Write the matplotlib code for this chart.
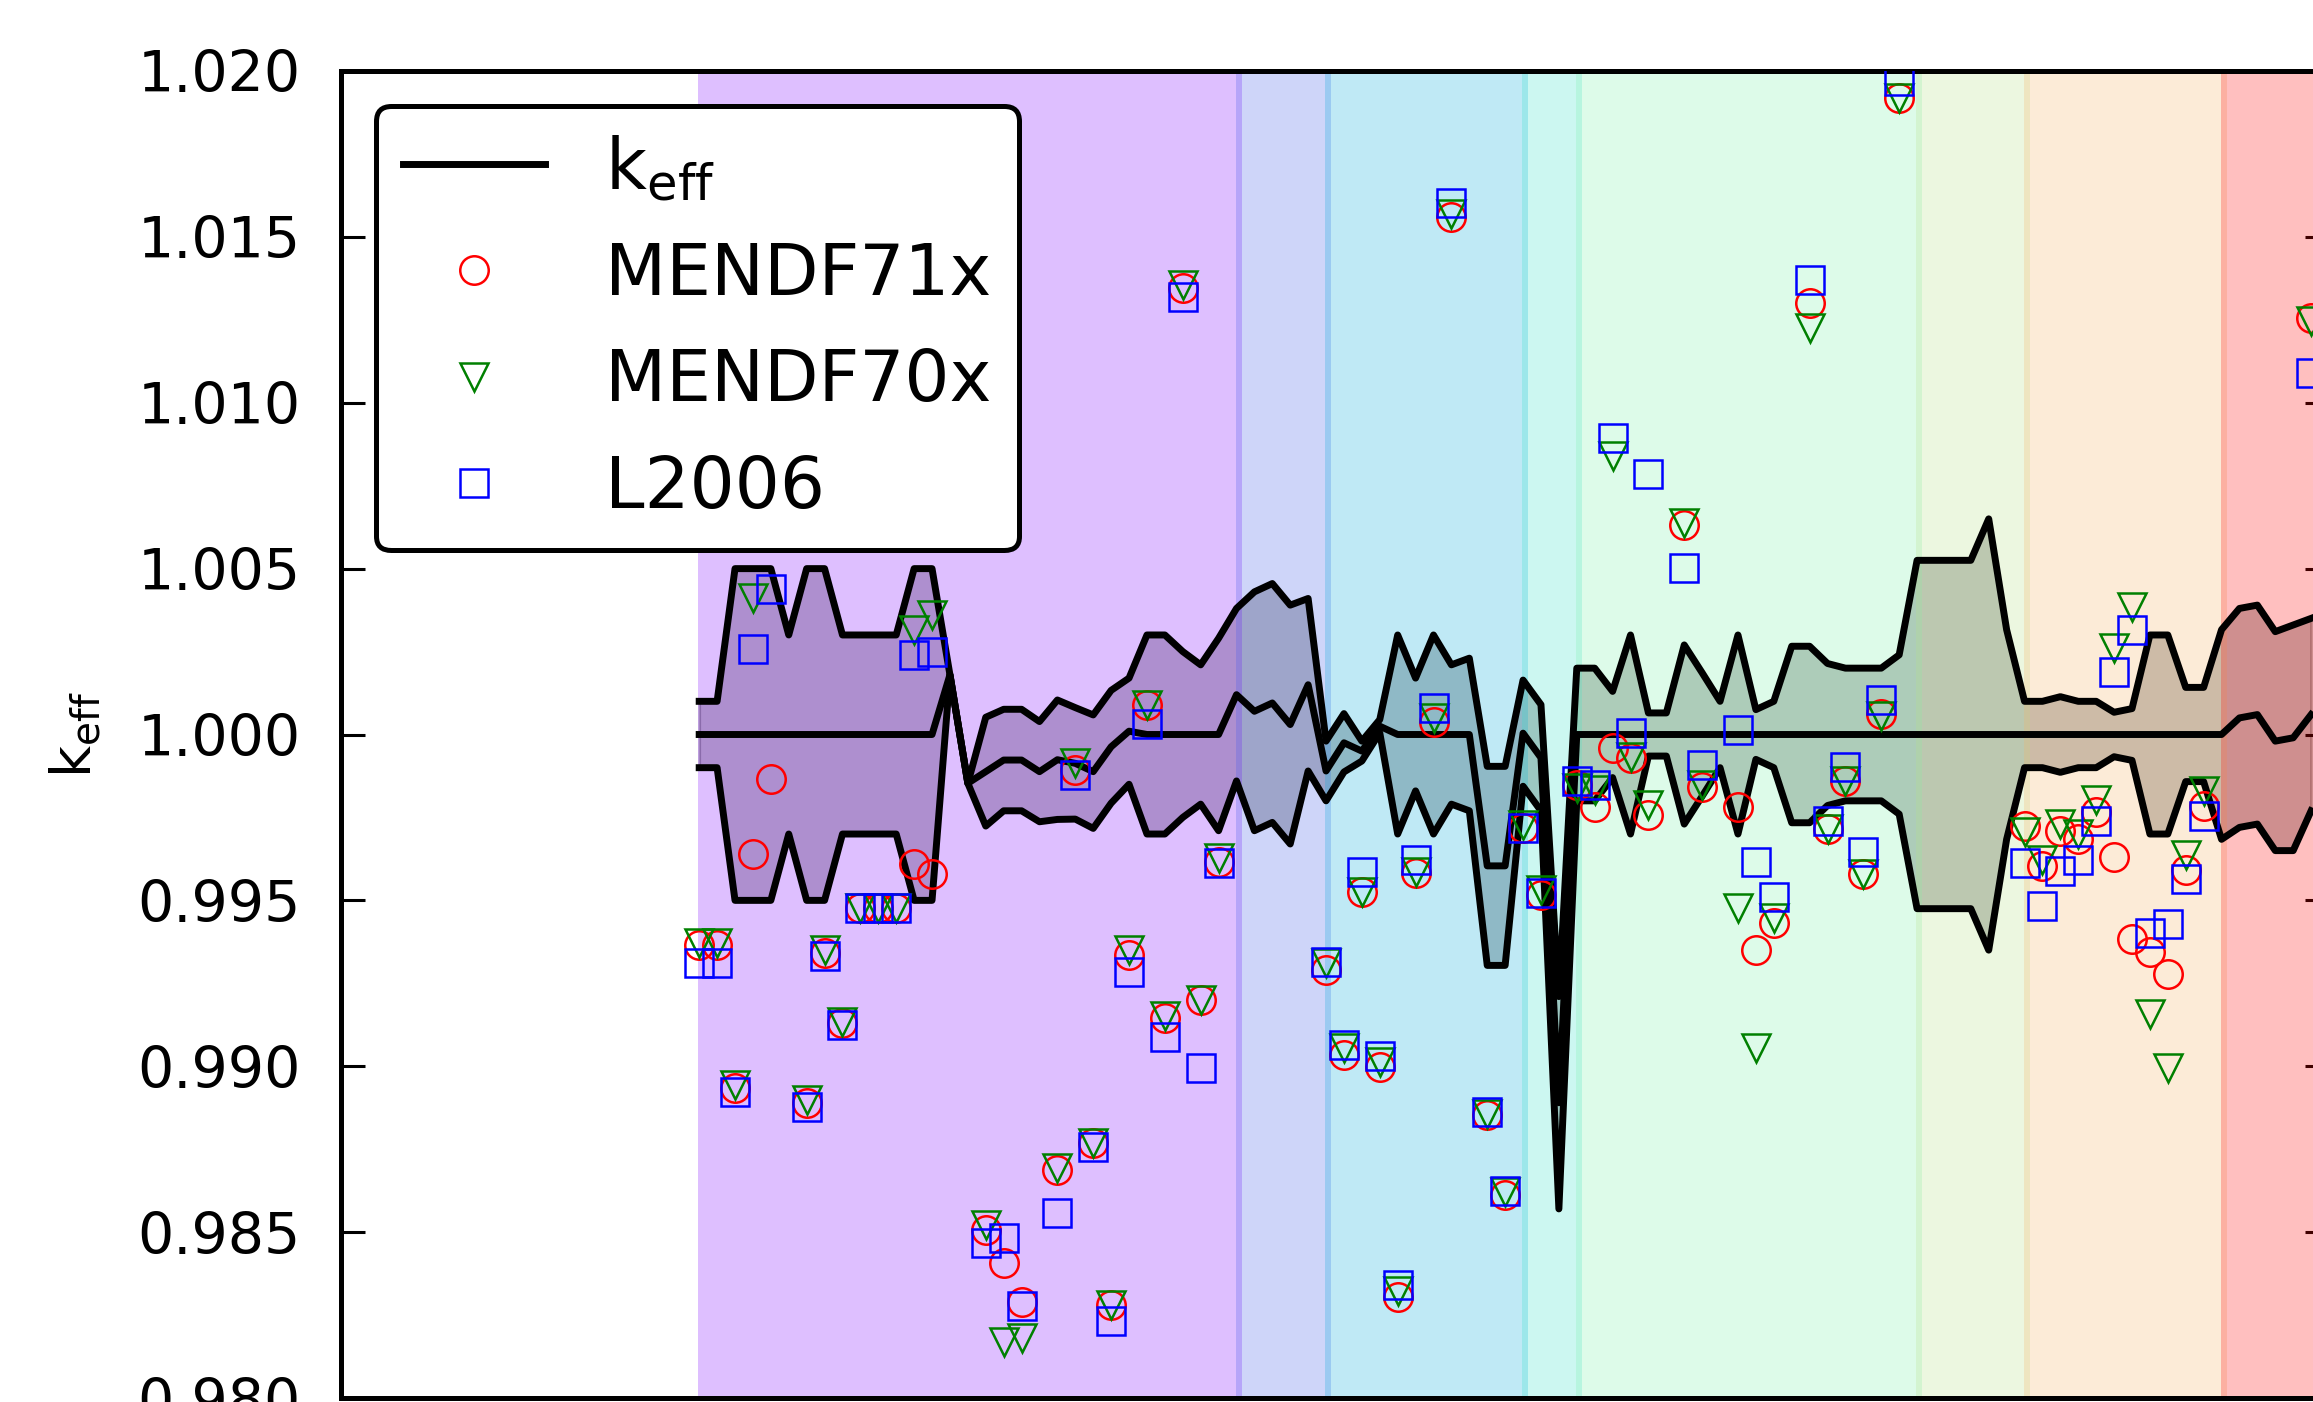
import matplotlib.pyplot as plt
import numpy as np
from matplotlib.ticker import FormatStrFormatter

nan = np.nan

# benchmark k_eff and 1-sigma uncertainty, one entry per experiment
keff = [1.0] * 14 + [1.0018, 0.99853,
        0.99888, 0.99923, 0.99923, 0.99888, 0.99924, 0.99913, 0.99888, 0.99963, 1.0001,
        1.0, 1.0, 1.0, 1.0, 1.0,
        1.0012, 1.0007, 1.00095, 1.0003, 1.0015, 0.9989, 0.99975, 0.9995, 1.00025,
        1.0, 1.0, 1.0, 1.0, 1.0,
        0.99604, 0.99604, 1.00004, 0.9993, 0.9889] + [1.0] * 37 + [
        1.0005, 1.0006, 0.9998, 0.9999, 1.0006]

sigma = [0.001, 0.001, 0.005, 0.005, 0.005, 0.003, 0.005, 0.005, 0.003, 0.003, 0.003, 0.003, 0.005, 0.005,
         0.0, 0.0, 0.00164, 0.00153, 0.00153, 0.00151, 0.0018, 0.00168, 0.00171, 0.0017, 0.0016,
         0.003, 0.003, 0.0025, 0.0021, 0.0029,
         0.0026, 0.0036, 0.0036, 0.0036, 0.0026, 0.0009, 0.00088, 0.0003, 0.0002,
         0.003, 0.0017, 0.003, 0.0021, 0.0023,
         0.003, 0.003, 0.0016, 0.0016, 0.0032,
         0.002, 0.002, 0.0013, 0.003, 0.00065, 0.00065, 0.0027, 0.00186, 0.001, 0.003, 0.00075, 0.001,
         0.00266, 0.00266, 0.00214, 0.002, 0.002, 0.002, 0.0024,
         0.00525, 0.00525, 0.00525, 0.00525, 0.0065, 0.00316,
         0.001, 0.001, 0.00114, 0.001, 0.001, 0.00067, 0.00078, 0.003, 0.003, 0.00142, 0.00142, 0.00316,
         0.0033, 0.0033, 0.0033, 0.0034, 0.0029]

mendf71x = [0.99366, 0.99366, 0.98934, 0.99639, 0.99865, nan, 0.98889, 0.99341, 0.9913, 0.99476,
            0.99476, 0.99476, 0.99609, 0.99579, nan, nan, 0.98506, 0.98408, 0.9829, nan,
            0.98687, 0.99893, 0.98769, 0.9828, 0.99335, 1.00089, 0.99145, 1.01345, 0.992, 0.99617,
            nan, nan, nan, nan, nan, 0.9929, 0.99034, 0.99526, 0.98999, 0.98305,
            0.99582, 1.00039, 1.01561, nan, 0.98853, 0.98612, 0.99717, 0.99516, nan, 0.99848,
            0.99782, 0.99958, 0.99928, 0.99758, nan, 1.00632, 0.99843, nan, 0.99782, 0.9935,
            0.99431, nan, 1.013, 0.99714, 0.99859, 0.9958, 1.00061, 1.01918, nan, nan,
            nan, nan, nan, nan, 0.99725, 0.99604, 0.99708, 0.99685, 0.99766, 0.99632,
            0.99383, 0.99343, 0.99279, 0.99592, 0.99783, nan, nan, nan, nan, nan,
            1.01255]

mendf70x = [0.99372, 0.99372, 0.98943, 1.0041, nan, nan, 0.98899, 0.9935, 0.99134, 0.99478,
            0.99478, 0.99478, 1.00315, 1.0036, nan, nan, 0.9852, 0.9817, 0.9818, nan,
            0.98692, 0.99914, 0.9877, 0.9828, 0.9935, 1.00089, 0.9915, 1.01355, 0.992, 0.99627,
            nan, nan, nan, nan, nan, 0.99311, 0.99054, 0.99526, 0.99012, 0.98323,
            0.99585, 1.00049, 1.01569, nan, 0.98856, 0.9862, 0.99727, 0.99531, nan, 0.99838,
            0.99833, 1.00838, 0.99933, 0.99787, nan, 1.00637, 0.99848, nan, 0.99476, 0.99054,
            0.99446, nan, 1.01225, 0.99714, 0.99859, 0.9958, 1.00056, 1.0192, nan, nan,
            nan, nan, nan, nan, 0.99706, 0.99621, 0.99729, 0.997, 0.99804, 1.00262,
            1.00384, 0.99157, 0.98994, 0.99638, 0.9983, nan, nan, nan, nan, nan,
            1.01247]

l2006 = [0.99311, 0.99311, 0.98922, 1.00258, 1.00438, nan, 0.98878, 0.99332, 0.99124, 0.99476,
         0.99476, 0.99476, 1.0024, 1.0025, nan, nan, 0.98467, 0.98482, 0.98277, nan,
         0.98558, 0.99878, 0.98757, 0.98233, 0.99285, 1.00032, 0.99089, 1.0132, 0.98996, 0.99614,
         nan, nan, nan, nan, nan, 0.99315, 0.99064, 0.99586, 0.99032, 0.98341,
         0.99622, 1.00079, 1.01601, nan, 0.98863, 0.98624, 0.99717, 0.99521, nan, 0.99861,
         0.99848, 1.00893, 1.00004, 1.00784, nan, 1.00501, 0.99908, nan, 1.00014, 0.99617,
         0.99511, nan, 1.0137, 0.99739, 0.99903, 0.99646, 1.00105, 1.0197, nan, nan,
         nan, nan, nan, nan, 0.99612, 0.99482, 0.99588, 0.99623, 0.99739, 1.00189,
         1.00314, 0.99403, 0.9943, 0.99565, 0.99754, nan, nan, nan, nan, nan,
         1.01089]

# background bands (experiment index ranges)
band_edges = [0, 30, 35, 46, 49, 68, 74, 85, 90]
band_colors = ['#7f00ff', '#3f5beb', '#03abdb', '#37e3cb', '#7bf3ab', '#b7e387', '#f7b363', '#ff0000']

x = np.arange(len(keff))
keff = np.array(keff)
sigma = np.array(sigma)

plt.rcParams['mathtext.default'] = 'regular'

fig = plt.figure(figsize=(23.13, 14.02), dpi=100)
ax = fig.add_axes([341 / 2313, 4 / 1402, 1988 / 2313, 1327 / 1402])

ax.fill_between(x, keff - sigma, keff + sigma, color='k', alpha=0.25, lw=2, zorder=1)
for k in range(len(band_colors)):
    ax.axvspan(band_edges[k] - 0.05, band_edges[k + 1] + 0.3, color=band_colors[k],
               alpha=0.25, lw=0, zorder=2)

ax.plot(x, keff, 'k-', lw=5, zorder=3, label=r'$k_{eff}$')
ax.plot(x, keff + sigma, 'k-', lw=5, zorder=3)
ax.plot(x, keff - sigma, 'k-', lw=5, zorder=3)

ms = 20.5
mew = 1.8
ax.plot(x, mendf71x, 'o', ms=ms, mec='r', mfc='none', mew=mew, zorder=4, label='MENDF71x')
ax.plot(x, mendf70x, 'v', ms=ms, mec='g', mfc='none', mew=mew, zorder=4, label='MENDF70x')
ax.plot(x, l2006, 's', ms=ms, mec='b', mfc='none', mew=mew, zorder=4, label='L2006')

ax.set_xlim(-20, 91)
ax.set_ylim(0.98, 1.02)
ax.set_xticks([])
ax.set_yticks(np.arange(0.98, 1.0201, 0.005))
ax.yaxis.set_major_formatter(FormatStrFormatter('%.3f'))
ax.tick_params(axis='y', direction='in', length=17, width=2.2, labelsize=41, pad=29,
               left=True, right=True)
for s in ax.spines.values():
    s.set_linewidth(3.6)
ax.set_ylabel(r'$k_{eff}$', fontsize=40, labelpad=25)

leg = ax.legend(loc='upper left', fontsize=51, numpoints=1, handlelength=2.0,
                handletextpad=0.85, borderpad=0.38, labelspacing=0.53, borderaxespad=0.5,
                fancybox=True, framealpha=1)
leg.get_frame().set_edgecolor('k')
leg.get_frame().set_linewidth(3.6)
leg.set_zorder(10)

fig.savefig('out.png', dpi=100)
